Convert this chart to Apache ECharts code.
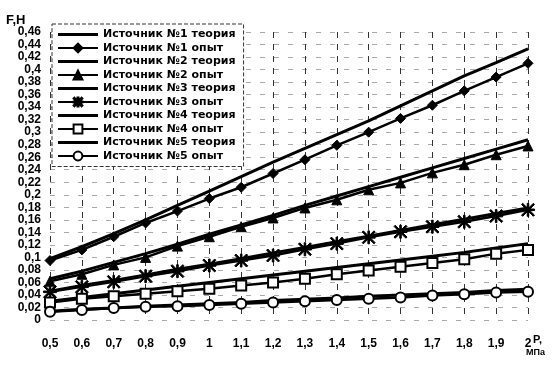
<!DOCTYPE html>
<html>
<head>
<meta charset="utf-8">
<script src="https://cdn.jsdelivr.net/npm/echarts@6/dist/echarts.min.js"></script>
<style>
  html, body { margin: 0; padding: 0; background: #fff; }
  #chart { width: 554px; height: 367px; }
</style>
</head>
<body>
<div id="chart"></div>
<script>
// давление, МПа
const pressure = ['0,5', '0,6', '0,7', '0,8', '0,9', '1', '1,1', '1,2', '1,3', '1,4', '1,5', '1,6', '1,7', '1,8', '1,9', '2']

// сила F, Н
const src1Theory = [0.098, 0.117, 0.138, 0.160, 0.183, 0.206, 0.229, 0.252, 0.274, 0.296, 0.318, 0.342, 0.366, 0.390, 0.411, 0.433]
const src1Exp = [0.095, 0.112, 0.133, 0.155, 0.174, 0.194, 0.212, 0.234, 0.256, 0.279, 0.300, 0.322, 0.343, 0.366, 0.388, 0.410]
const src2Theory = [0.066, 0.078, 0.092, 0.106, 0.121, 0.137, 0.152, 0.167, 0.183, 0.198, 0.213, 0.228, 0.243, 0.258, 0.273, 0.288]
const src2Exp = [0.062, 0.073, 0.088, 0.100, 0.118, 0.133, 0.149, 0.163, 0.179, 0.192, 0.208, 0.219, 0.235, 0.248, 0.264, 0.278]
const src3Theory = [0.046, 0.055, 0.063, 0.072, 0.081, 0.089, 0.098, 0.107, 0.116, 0.125, 0.134, 0.143, 0.152, 0.161, 0.170, 0.179]
const src3Exp = [0.045, 0.053, 0.061, 0.070, 0.078, 0.087, 0.095, 0.103, 0.113, 0.122, 0.132, 0.141, 0.149, 0.157, 0.166, 0.176]
const src4Theory = [0.030, 0.036, 0.042, 0.048, 0.054, 0.060, 0.066, 0.072, 0.078, 0.084, 0.090, 0.096, 0.102, 0.108, 0.115, 0.122]
const src4Exp = [0.028, 0.034, 0.038, 0.042, 0.046, 0.050, 0.055, 0.060, 0.066, 0.073, 0.079, 0.085, 0.091, 0.097, 0.106, 0.112]
const src5Theory = [0.014, 0.017, 0.019, 0.022, 0.024, 0.026, 0.028, 0.031, 0.033, 0.035, 0.038, 0.040, 0.042, 0.044, 0.047, 0.049]
const src5Exp = [0.013, 0.016, 0.019, 0.021, 0.022, 0.024, 0.026, 0.028, 0.030, 0.032, 0.034, 0.036, 0.039, 0.041, 0.044, 0.045]

const asterisk = 'path://M0,4.4L10,4.4L10,5.6L0,5.6Z M4.4,0L5.6,0L5.6,10L4.4,10Z M0.9,0L10,9.1L9.1,10L0,0.9Z M9.1,0L10,0.9L0.9,10L0,9.1Z'
// plain line for the legend of theory curves (tiny corner dots keep the box 40x11)
const lineIcon = 'path://M0,0L0.01,0L0,0.01Z M0,4L40,4L40,7L0,7Z M40,11L39.99,11L40,10.99Z'

const font = '"Liberation Sans", Arial, sans-serif'

function theory(name, data) {
    return {
        name: name,
        type: 'line',
        data: data,
        symbol: 'none',
        lineStyle: { color: '#000', width: 3 },
        itemStyle: { color: '#000' },
        z: 2,
    }
}

function exp(name, data, symbol, size, filled) {
    return {
        name: name,
        type: 'line',
        data: data,
        symbol: symbol,
        symbolSize: size,
        showAllSymbol: true,
        lineStyle: { color: '#000', width: 2.5 },
        itemStyle: { color: filled ? '#000' : '#fff', borderColor: '#000', borderWidth: filled ? 1 : 2 },
        z: 3,
    }
}

const series = [
    theory('Источник №1 теория', src1Theory),
    exp('Источник №1 опыт', src1Exp, 'diamond', 10, true),
    theory('Источник №2 теория', src2Theory),
    exp('Источник №2 опыт', src2Exp, 'triangle', 10, true),
    theory('Источник №3 теория', src3Theory),
    exp('Источник №3 опыт', src3Exp, asterisk, 13, true),
    theory('Источник №4 теория', src4Theory),
    exp('Источник №4 опыт', src4Exp, 'rect', 10, false),
    theory('Источник №5 теория', src5Theory),
    exp('Источник №5 опыт', src5Exp, 'circle', 10, false),
]

const chart = echarts.init(document.getElementById('chart'))
chart.setOption({
    animation: false,
    backgroundColor: '#fff',
    textStyle: { fontFamily: font },
    grid: { left: 50, right: 26, top: 32, bottom: 47 },
    legend: {
        orient: 'vertical',
        left: 52,
        top: 24,
        itemWidth: 40,
        itemHeight: 11,
        itemGap: 2.5,
        padding: [5, 8, 5, 5],
        borderColor: '#333',
        borderWidth: 1,
        borderType: 'dashed',
        backgroundColor: '#fff',
        data: series.map(s => s.symbol === 'none' ? { name: s.name, icon: lineIcon } : { name: s.name }),
        textStyle: { color: '#000', fontSize: 11, fontWeight: 'bold', lineHeight: 11, fontFamily: '"DejaVu Sans", sans-serif' },
    },
    xAxis: {
        type: 'category',
        data: pressure,
        boundaryGap: false,
        axisLine: { show: false },
        axisTick: { show: false },
        axisLabel: { color: '#000', fontSize: 12, fontWeight: 'bold', margin: 18, fontFamily: font },
        splitLine: { show: true, lineStyle: { color: '#333', width: 1, type: [6, 6] } },
    },
    yAxis: {
        type: 'value',
        min: 0,
        max: 0.46,
        interval: 0.02,
        axisLine: { show: false },
        axisTick: { show: false },
        axisLabel: {
            color: '#000', fontSize: 12, fontWeight: 'bold', margin: 9, fontFamily: font,
            formatter: v => v === 0 ? '0' : String(+v.toFixed(2)).replace('.', ','),
        },
        splitLine: { show: true, lineStyle: { color: '#aaa', width: 1, type: [5, 9] } },
    },
    graphic: [
        { type: 'text', left: 6, top: 14, style: { text: 'F,H', font: 'bold 13px ' + font, fill: '#000' } },
        { type: 'text', left: 533, top: 334, style: { text: 'P,', font: 'bold 11px ' + font, fill: '#000' } },
        { type: 'text', left: 526, top: 348, style: { text: 'МПа', font: 'bold 9px ' + font, fill: '#000' } },
    ],
    series: series,
})
</script>
</body>
</html>
